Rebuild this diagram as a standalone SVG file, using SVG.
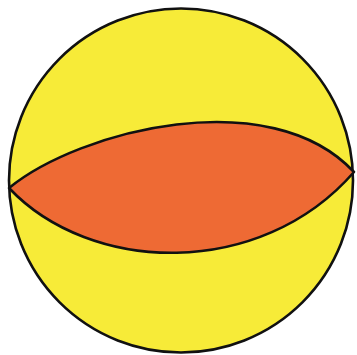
<svg xmlns="http://www.w3.org/2000/svg" width="357" height="355" viewBox="0 0 357 355">
<style>
.ol{stroke:#111;stroke-width:2.6;stroke-linejoin:round}
</style>
<rect width="357" height="355" fill="#ffffff"/>
<g id="sphere">
<circle cx="181" cy="180.5" r="172" fill="#F7EB38" class="ol"/>
</g>
<g id="lens">
<path d="M9,188 C80,130 270,82 354,172 C260,280 90,274 9,188 Z" fill="#EE6A34" class="ol"/>
</g>
</svg>
